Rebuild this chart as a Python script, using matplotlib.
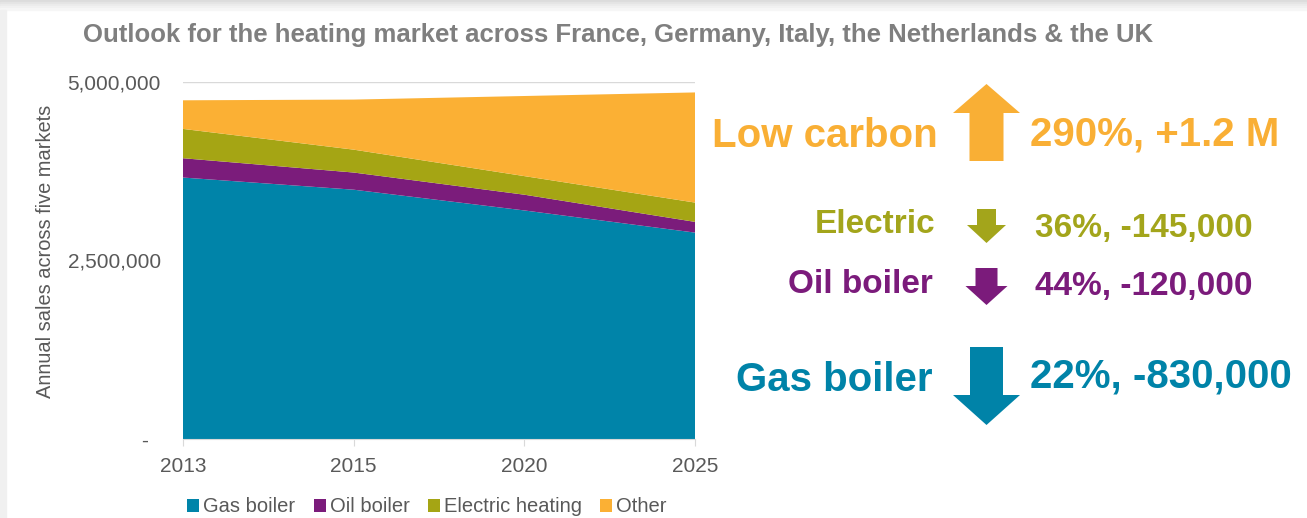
import matplotlib.pyplot as plt
import matplotlib.transforms as mtransforms
from matplotlib.patches import Polygon, Rectangle
from matplotlib.ticker import FuncFormatter, FixedLocator

plt.rcParams['font.family'] = ['Liberation Sans', 'DejaVu Sans']

# data (annual sales)
years = ['2013', '2015', '2020', '2025']
gas_boiler = [3660000, 3490000, 3200000, 2890000]
oil_boiler = [270000, 240000, 220000, 150000]
electric_heating = [410000, 320000, 260000, 270000]
other = [400000, 700000, 1120000, 1540000]

series_names = ['Gas boiler', 'Oil boiler', 'Electric heating', 'Other']
series_colors = ['#0084A9', '#7B1C7B', '#A5A514', '#FBB034']

# right-hand summary
summary_labels = ['Low carbon', 'Electric', 'Oil boiler', 'Gas boiler']
summary_values = ['290%, +1.2 M', '36%, -145,000', '44%, -120,000', '22%, -830,000']
summary_colors = ['#F9AF35', '#A3A51B', '#7B1B7B', '#0083A8']

W, H = 1307, 518
fig = plt.figure(figsize=(W / 100, H / 100), dpi=100)
fig.patch.set_facecolor('white')

# pixel transform (origin top-left) for the decorations
px = mtransforms.Affine2D().scale(1 / W, -1 / H).translate(0, 1) + fig.transFigure

# faint shadow along the top and left edge
for i, c in enumerate(['#dcdcdc', '#e4e4e4', '#ebebeb', '#f1f1f1', '#f6f6f6']):
    fig.patches.append(Rectangle((0, i * 2), W, 2, transform=px, color=c, zorder=0))
fig.patches.append(Rectangle((0, 10), 6, H, transform=px, color='#f0f0f0', zorder=0))

ax = fig.add_axes([183 / W, 78.7 / H, 512 / W, 357.6 / H])
x = list(range(len(years)))
ax.stackplot(x, gas_boiler, oil_boiler, electric_heating, other,
             colors=series_colors, labels=series_names, zorder=2)

ax.set_xlim(0, 3)
ax.set_ylim(0, 5000000)
ax.set_xticks(x)
ax.set_xticklabels(years)
ax.yaxis.set_major_locator(FixedLocator([0, 2500000, 5000000]))
ax.yaxis.set_major_formatter(FuncFormatter(lambda v, p: '-  ' if v == 0 else f'{int(v):,}'))
ax.grid(axis='y', color='#d9d9d9', linewidth=1, zorder=0)
ax.set_axisbelow(True)
for s in ['top', 'right', 'left']:
    ax.spines[s].set_visible(False)
ax.spines['bottom'].set_color('#d9d9d9')
ax.tick_params(axis='y', length=0, pad=16, labelsize=15, labelcolor='#595959')
ax.tick_params(axis='x', length=5, color='#d9d9d9', pad=8, labelsize=15, labelcolor='#595959')
ax.set_ylabel('Annual sales across five markets', fontsize=14.4, color='#595959')
ax.yaxis.set_label_coords(-0.25, 0.525)

fig.text(83 / W, 1 - 42 / H, 'Outlook for the heating market across France, Germany, Italy, the Netherlands & the UK',
         fontsize=18.5, fontweight='bold', color='#7f7f7f', ha='left', va='baseline')

leg = fig.legend(loc='center', bbox_to_anchor=(427 / W, 11 / H), ncol=4, frameon=False,
                 fontsize=14.5, handlelength=0.6, handleheight=0.6, handletextpad=0.2,
                 columnspacing=0.9, borderaxespad=0)
for t in leg.get_texts():
    t.set_color('#595959')


def arrow(cx, y_tail, y_base, y_tip, shaft_w, head_w, color):
    pts = [(cx - shaft_w / 2, y_tail), (cx - shaft_w / 2, y_base), (cx - head_w / 2, y_base),
           (cx, y_tip), (cx + head_w / 2, y_base), (cx + shaft_w / 2, y_base), (cx + shaft_w / 2, y_tail)]
    fig.patches.append(Polygon(pts, closed=True, transform=px, color=color, lw=0))


arrow(986.5, 161, 113, 84, 34, 67, summary_colors[0])
arrow(986.5, 209, 225, 243, 19, 39, summary_colors[1])
arrow(986.5, 268, 286, 305, 22, 42, summary_colors[2])
arrow(986.5, 347, 395, 425, 33, 67, summary_colors[3])

label_pos = [(938, 147, 29), (935, 233, 24), (933, 293, 24), (932, 391, 29)]
value_pos = [(1030, 146), (1035, 237), (1035, 295), (1030, 388)]
for i in range(4):
    lx, ly, fs = label_pos[i]
    vx, vy = value_pos[i]
    fig.text(lx / W, 1 - ly / H, summary_labels[i], fontsize=fs, fontweight='bold',
             color=summary_colors[i], ha='right', va='baseline')
    fig.text(vx / W, 1 - vy / H, summary_values[i], fontsize=fs, fontweight='bold',
             color=summary_colors[i], ha='left', va='baseline')

fig.savefig('out.png', dpi=100)
